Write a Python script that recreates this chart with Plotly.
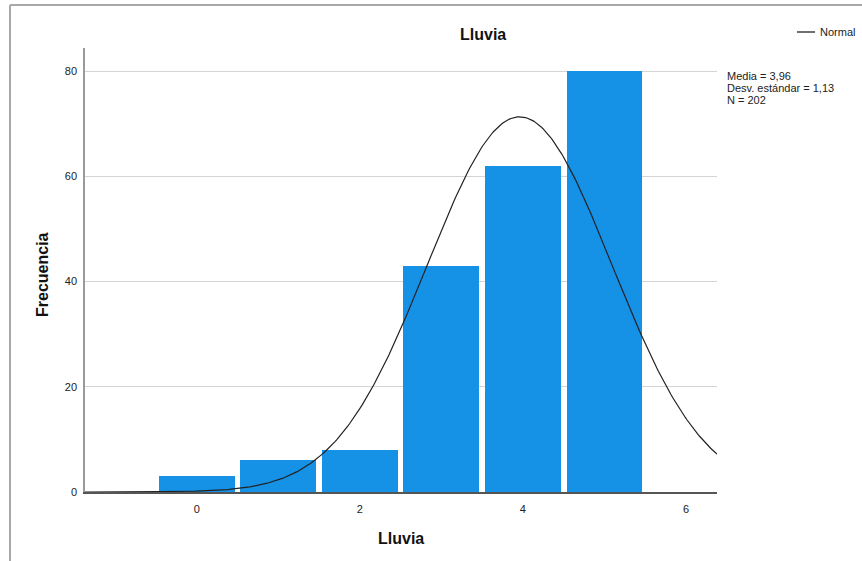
import numpy as np
import plotly.graph_objects as go

# Data
categories = [0, 1, 2, 3, 4, 5]
frequencies = [3, 6, 8, 43, 62, 80]
mean_val = 3.96
sd_val = 1.13
n_val = 202
bin_width = 1.0
x_ticks = [0, 2, 4, 6]
y_ticks = [0, 20, 40, 60, 80]

W, H = 862, 561
L, R, T, B = 85, 717, 48, 492  # plot area in pixels


def px(x):
    return (x - L) / (R - L)


def py(y):
    return (B - y) / (B - T)


xr = [-1.37, 6.38]
yr = [0, 84.4]

# normal curve fitted from shown statistics
xc = np.linspace(xr[0], xr[1], 400)
yc = n_val * bin_width / (sd_val * np.sqrt(2 * np.pi)) * np.exp(-0.5 * ((xc - mean_val) / sd_val) ** 2)

fig = go.Figure()
fig.add_trace(go.Bar(x=categories, y=frequencies, width=0.93,
                     marker=dict(color="#1591e6", line=dict(width=0)),
                     showlegend=False))
fig.add_trace(go.Scatter(x=xc, y=yc, mode="lines",
                         line=dict(color="#222222", width=1.2), showlegend=False))

font = "Liberation Sans, Arial, sans-serif"
fig.update_layout(
    width=W, height=H,
    margin=dict(l=L, r=W - R, t=T, b=H - B, pad=0),
    paper_bgcolor="white", plot_bgcolor="white",
    font=dict(family=font, size=11, color="#222222"),
    xaxis=dict(range=xr, tickvals=x_ticks, ticks="", showgrid=False, zeroline=False,
               showline=True, linecolor="#555555", linewidth=1.5,
               tickfont=dict(size=11, color="#222222"), ticklabelstandoff=6),
    yaxis=dict(range=yr, tickvals=y_ticks, ticks="", showgrid=True, gridcolor="#d4d4d4",
               gridwidth=1.2, zeroline=False, showline=True, linecolor="#9a9a9a",
               linewidth=1.5, tickfont=dict(size=11, color="#222222"), ticklabelstandoff=4),
    bargap=0,
)

ann = [
    dict(text="<b>Lluvia</b>", x=px(483), y=py(35), font=dict(size=16, color="#111111")),
    dict(text="<b>Lluvia</b>", x=px(401), y=py(538), font=dict(size=16, color="#111111")),
    dict(text="<b>Frecuencia</b>", x=px(42), y=py(275), textangle=-90, font=dict(size=16, color="#111111")),
    dict(text="Normal", x=px(818), y=py(32), xanchor="left", font=dict(size=11, color="#222222")),
    dict(text="Media = 3,96", x=px(725), y=py(76), xanchor="left", font=dict(size=11, color="#222222")),
    dict(text="Desv. estándar = 1,13", x=px(725), y=py(88), xanchor="left", font=dict(size=11, color="#222222")),
    dict(text="N = 202", x=px(725), y=py(100), xanchor="left", font=dict(size=11, color="#222222")),
]
for a in ann:
    a.setdefault("xanchor", "center")
    a.update(xref="paper", yref="paper", yanchor="middle", showarrow=False)
    fig.add_annotation(**a)

shapes = [
    dict(type="line", x0=px(797), x1=px(815), y0=py(32), y1=py(32), line=dict(color="#222222", width=1.3)),
    dict(type="line", x0=px(10), x1=px(870), y0=py(5), y1=py(5), line=dict(color="#a8a8a8", width=2)),
    dict(type="line", x0=px(10), x1=px(10), y0=py(5), y1=py(570), line=dict(color="#a8a8a8", width=2)),
]
for s in shapes:
    s.update(xref="paper", yref="paper")
    fig.add_shape(**s)

fig.write_html(
    "out.html",
    config={"displayModeBar": False},
    post_script="document.body.style.margin='0';document.body.style.overflow='hidden';",
)
